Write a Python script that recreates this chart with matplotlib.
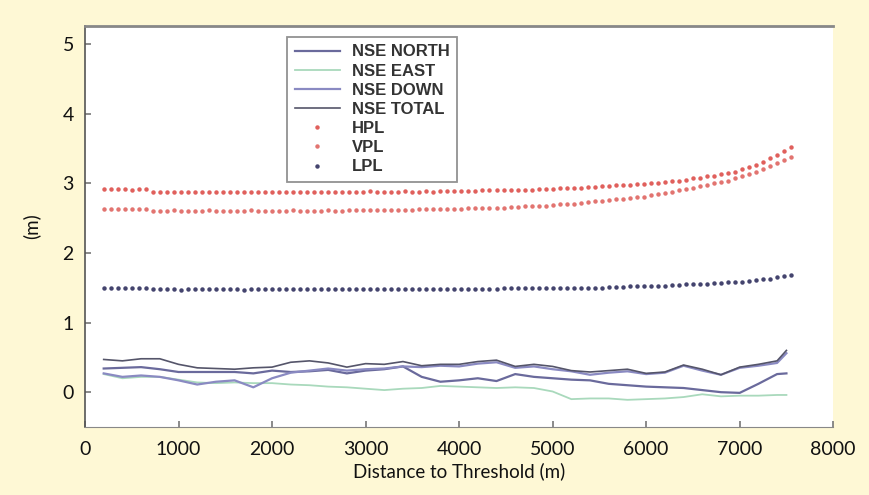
import matplotlib
matplotlib.use("Agg")
import matplotlib.pyplot as plt

# distance grid of the 4 NSE lines (m)
dist_nse = [200, 400, 600, 800, 1000, 1200, 1400, 1600, 1800, 2000,
            2200, 2400, 2600, 2800, 3000, 3200, 3400, 3600, 3800, 4000,
            4200, 4400, 4600, 4800, 5000, 5200, 5400, 5600, 5800, 6000,
            6200, 6400, 6600, 6800, 7000, 7200, 7400, 7500]

nse_north = [0.34, 0.35, 0.36, 0.33, 0.29, 0.29, 0.29, 0.29, 0.27, 0.31,
             0.29, 0.30, 0.32, 0.27, 0.31, 0.33, 0.37, 0.22, 0.15, 0.17,
             0.20, 0.16, 0.26, 0.22, 0.20, 0.18, 0.17, 0.12, 0.10, 0.08,
             0.07, 0.06, 0.03, 0.00, -0.01, 0.12, 0.26, 0.27]
nse_east = [0.26, 0.20, 0.22, 0.22, 0.18, 0.14, 0.13, 0.14, 0.13, 0.13,
            0.11, 0.10, 0.08, 0.07, 0.05, 0.03, 0.05, 0.06, 0.09, 0.08,
            0.07, 0.06, 0.07, 0.06, 0.01, -0.10, -0.09, -0.09, -0.11, -0.10,
            -0.09, -0.07, -0.03, -0.06, -0.05, -0.05, -0.04, -0.04]
nse_down = [0.27, 0.22, 0.24, 0.22, 0.17, 0.11, 0.15, 0.17, 0.07, 0.20,
            0.28, 0.31, 0.34, 0.31, 0.33, 0.34, 0.37, 0.36, 0.38, 0.37,
            0.41, 0.43, 0.35, 0.37, 0.33, 0.30, 0.25, 0.28, 0.30, 0.26,
            0.28, 0.38, 0.31, 0.25, 0.35, 0.38, 0.42, 0.56]
nse_total = [0.47, 0.45, 0.48, 0.48, 0.40, 0.35, 0.34, 0.33, 0.35, 0.36,
             0.43, 0.45, 0.42, 0.36, 0.41, 0.40, 0.44, 0.38, 0.40, 0.40,
             0.44, 0.46, 0.37, 0.40, 0.37, 0.31, 0.29, 0.31, 0.33, 0.27,
             0.29, 0.39, 0.33, 0.25, 0.36, 0.40, 0.45, 0.60]

# protection levels, one point every 75 m from 200 to 7550 m
dist_pl = [200 + 75 * i for i in range(99)]

hpl = [2.92, 2.92, 2.92, 2.92, 2.91, 2.92, 2.92,
       2.88, 2.87, 2.88, 2.88, 2.87, 2.88, 2.88, 2.88, 2.87, 2.88,
       2.88, 2.88, 2.87, 2.88, 2.88, 2.88, 2.88, 2.87, 2.88, 2.88,
       2.88, 2.88, 2.88, 2.87, 2.88, 2.88, 2.88, 2.88, 2.88, 2.88,
       2.88, 2.89, 2.88, 2.88, 2.88, 2.88, 2.89, 2.88, 2.88, 2.89,
       2.88, 2.89, 2.89, 2.89,
       2.89, 2.89, 2.89, 2.90, 2.90, 2.90, 2.90, 2.91, 2.91, 2.91,
       2.91, 2.92, 2.92, 2.92,
       2.93, 2.93, 2.94, 2.94, 2.95, 2.95, 2.96, 2.96, 2.97, 2.97,
       2.98, 2.99, 2.99,
       3.00, 3.01, 3.02, 3.03, 3.04, 3.05, 3.07, 3.08, 3.10, 3.11,
       3.13, 3.15, 3.17,
       3.20, 3.23, 3.27, 3.31, 3.36, 3.41, 3.46, 3.52]
vpl = [2.63, 2.63, 2.63, 2.63, 2.63, 2.63, 2.63,
       2.61, 2.61, 2.61, 2.62, 2.61, 2.61, 2.61, 2.61, 2.62, 2.61,
       2.61, 2.61, 2.61, 2.61, 2.62, 2.61, 2.61, 2.61, 2.61, 2.61,
       2.62, 2.61, 2.61, 2.61, 2.61, 2.62, 2.61, 2.61, 2.62, 2.62,
       2.62, 2.62, 2.62, 2.62, 2.62, 2.62, 2.62, 2.62, 2.63, 2.63,
       2.63, 2.63, 2.63, 2.63,
       2.63, 2.64, 2.64, 2.64, 2.65, 2.65, 2.65, 2.66, 2.66, 2.67,
       2.67, 2.68, 2.68, 2.69,
       2.70, 2.70, 2.71, 2.72, 2.73, 2.74, 2.75, 2.76, 2.77, 2.78,
       2.79, 2.80, 2.81,
       2.83, 2.84, 2.86, 2.88, 2.90, 2.92, 2.94, 2.96, 2.98, 3.00,
       3.02, 3.04, 3.07,
       3.10, 3.13, 3.17, 3.21, 3.25, 3.29, 3.33, 3.38]
lpl = [1.49, 1.49, 1.49, 1.49, 1.49, 1.49, 1.49,
       1.48, 1.48, 1.48, 1.48, 1.47, 1.48, 1.48, 1.48, 1.48, 1.48,
       1.48, 1.48, 1.48, 1.47, 1.48, 1.48, 1.48, 1.48, 1.48, 1.48,
       1.48, 1.48, 1.48, 1.48, 1.48, 1.48, 1.48, 1.48, 1.48, 1.48,
       1.48, 1.48, 1.48, 1.48, 1.48, 1.48, 1.48, 1.48, 1.48, 1.48,
       1.48, 1.48, 1.48, 1.48,
       1.48, 1.48, 1.48, 1.48, 1.48, 1.48, 1.49, 1.49, 1.49, 1.49,
       1.49, 1.49, 1.49, 1.49,
       1.49, 1.49, 1.49, 1.50, 1.50, 1.50, 1.50, 1.51, 1.51, 1.51,
       1.52, 1.52, 1.52,
       1.53, 1.53, 1.53, 1.54, 1.54, 1.55, 1.55, 1.56, 1.56, 1.57,
       1.57, 1.58, 1.58,
       1.59, 1.60, 1.61, 1.62, 1.63, 1.65, 1.67, 1.68]

x_ticks = [0, 1000, 2000, 3000, 4000, 5000, 6000, 7000, 8000]
y_ticks = [0, 1, 2, 3, 4, 5]

bg = "#fef8d5"
fig = plt.figure(figsize=(8.69, 4.95), dpi=100, facecolor=bg)
ax = fig.add_axes([0.0978, 0.1374, 0.861, 0.81])
ax.set_facecolor("white")

ax.plot(dist_nse, nse_north, color="#6a6a9c", lw=1.6, label="NSE NORTH")
ax.plot(dist_nse, nse_east, color="#a9d9bc", lw=1.3, label="NSE EAST")
ax.plot(dist_nse, nse_down, color="#8a8ac2", lw=1.6, label="NSE DOWN")
ax.plot(dist_nse, nse_total, color="#55556a", lw=1.2, label="NSE TOTAL")
ax.plot(dist_pl, hpl, ls="none", marker="o", ms=2.2, color="#e0605c", label="HPL")
ax.plot(dist_pl, vpl, ls="none", marker="o", ms=2.2, color="#e27470", label="VPL")
ax.plot(dist_pl, lpl, ls="none", marker="o", ms=2.2, color="#44446e", label="LPL")

ax.set_xlim(0, 8000)
ax.set_ylim(-0.5, 5.26)
ax.set_xticks(x_ticks)
ax.set_yticks(y_ticks)

tick_font = {"family": "Lato", "size": 14}
ax.set_xticklabels([str(t) for t in x_ticks], fontdict=tick_font)
ax.set_yticklabels([str(t) for t in y_ticks], fontdict=tick_font)
ax.tick_params(direction="in", length=4, width=1.2, color="#777777",
               labelcolor="#111111")
ax.tick_params(axis="x", pad=10)
ax.tick_params(axis="y", pad=8)

ax.spines["right"].set_visible(False)
ax.spines["left"].set_color("#555555")
ax.spines["left"].set_linewidth(1.2)
ax.spines["bottom"].set_color("#888888")
ax.spines["top"].set_color("#888888")
ax.spines["top"].set_linewidth(2)

ax.set_xlabel("Distance to Threshold (m)", fontfamily="Lato", fontsize=13.5,
              color="#111111", labelpad=3)
ax.set_ylabel("(m)", fontfamily="Lato", fontsize=13.5, color="#111111",
              labelpad=16)

leg = ax.legend(loc="upper left", bbox_to_anchor=(0.27, 0.973),
                borderaxespad=0,
                prop={"family": "Liberation Sans", "weight": "bold", "size": 12},
                frameon=True, fancybox=False, edgecolor="#777777",
                handlelength=2.7, handletextpad=0.75, labelspacing=0.25,
                borderpad=0.45, markerscale=1.0)
leg.get_frame().set_linewidth(1.3)
for t in leg.get_texts():
    t.set_color("#333333")

fig.savefig("out.png", dpi=100, facecolor=bg)
